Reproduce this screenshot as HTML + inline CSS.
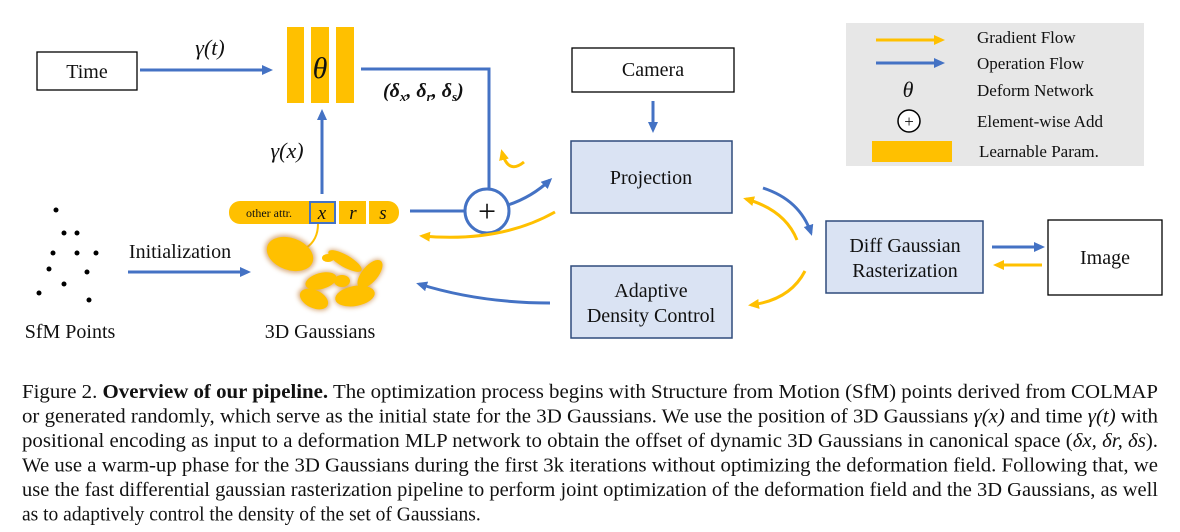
<!DOCTYPE html>
<html><head><meta charset="utf-8"><style>
html,body{margin:0;padding:0;background:#fff;}
svg{display:block;}
text{font-family:"Liberation Serif",serif;fill:#111;}
</style></head><body>
<svg width="1180" height="532" viewBox="0 0 1180 532" xmlns="http://www.w3.org/2000/svg">
<defs>
<marker id="ab" markerWidth="11" markerHeight="10" refX="8" refY="5" orient="auto" markerUnits="userSpaceOnUse"><path d="M0,0 L11,5 L0,10 Z" fill="#4472c4"/></marker>
<marker id="ay" markerWidth="11" markerHeight="10" refX="8" refY="5" orient="auto" markerUnits="userSpaceOnUse"><path d="M0,0 L11,5 L0,10 Z" fill="#ffc000"/></marker>
<filter id="gl" x="-30%" y="-30%" width="160%" height="160%"><feGaussianBlur stdDeviation="2.5"/></filter>
</defs>

<!-- legend -->
<rect x="846" y="23" width="298" height="143" fill="#e7e7e7"/>
<line x1="876" y1="40" x2="942" y2="40" stroke="#ffc000" stroke-width="3" marker-end="url(#ay)"/>
<line x1="876" y1="63" x2="942" y2="63" stroke="#4472c4" stroke-width="3" marker-end="url(#ab)"/>
<text x="908" y="97" font-size="22" font-style="italic" text-anchor="middle">θ</text>
<circle cx="909" cy="121" r="11" fill="#fff" stroke="#000" stroke-width="1.5"/>
<text x="909" y="127" font-size="17" text-anchor="middle">+</text>
<rect x="872" y="141" width="80" height="21" fill="#ffc000"/>
<text x="977" y="43" font-size="17">Gradient Flow</text>
<text x="977" y="69" font-size="17">Operation Flow</text>
<text x="977" y="96" font-size="17">Deform Network</text>
<text x="977" y="127" font-size="17">Element-wise Add</text>
<text x="979" y="157" font-size="17">Learnable Param.</text>

<!-- Time -->
<rect x="37" y="52" width="100" height="38" fill="#fff" stroke="#000" stroke-width="1.3"/>
<text x="87" y="78" font-size="20" text-anchor="middle">Time</text>
<text x="210" y="55" font-size="22" text-anchor="middle" font-style="italic">γ(t)</text>
<line x1="140" y1="70" x2="270" y2="70" stroke="#4472c4" stroke-width="3" marker-end="url(#ab)"/>

<!-- theta -->
<rect x="287" y="27" width="17" height="76" fill="#ffc000"/>
<rect x="311" y="27" width="18" height="76" fill="#ffc000"/>
<rect x="336" y="27" width="18" height="76" fill="#ffc000"/>
<text x="320" y="78" font-size="30" font-style="italic" text-anchor="middle">θ</text>
<polyline points="361,69 489,69 489,190" fill="none" stroke="#4472c4" stroke-width="3"/>
<text x="383" y="97" font-size="20" font-weight="bold" font-style="italic">(δ<tspan font-size="13" dy="4">x</tspan><tspan dy="-4">, δ</tspan><tspan font-size="13" dy="4">r</tspan><tspan dy="-4">, δ</tspan><tspan font-size="13" dy="4">s</tspan><tspan dy="-4">)</tspan></text>

<!-- gamma x -->
<text x="287" y="158" font-size="22" text-anchor="middle" font-style="italic">γ(x)</text>
<line x1="322" y1="194" x2="322" y2="112" stroke="#4472c4" stroke-width="3" marker-end="url(#ab)"/>

<!-- attr pill -->
<rect x="229" y="201" width="170" height="23" rx="11" fill="#ffc000"/>
<rect x="309" y="201" width="2" height="23" fill="#fff"/>
<rect x="336" y="201" width="3" height="23" fill="#fff"/>
<rect x="366" y="201" width="3" height="23" fill="#fff"/>
<rect x="310" y="202" width="25" height="21" fill="none" stroke="#4472c4" stroke-width="2"/>
<text x="269" y="217" font-size="12" text-anchor="middle">other attr.</text>
<text x="322" y="219" font-size="19" font-style="italic" text-anchor="middle">x</text>
<text x="353" y="219" font-size="19" font-style="italic" text-anchor="middle">r</text>
<text x="383" y="219" font-size="19" font-style="italic" text-anchor="middle">s</text>
<path d="M318,224 Q318,240 306,248" fill="none" stroke="#ffc000" stroke-width="2"/>

<!-- gaussians -->
<g filter="url(#gl)" fill="#c98a4a" opacity="0.7">
<ellipse cx="290" cy="254" rx="26" ry="18" transform="rotate(20 290 254)"/>
<ellipse cx="345" cy="261" rx="20" ry="7" transform="rotate(30 345 261)"/>
<ellipse cx="370" cy="274" rx="18" ry="9" transform="rotate(-50 370 274)"/>
<ellipse cx="321" cy="281" rx="18" ry="9" transform="rotate(-15 321 281)"/>
<ellipse cx="342" cy="281" rx="9" ry="7"/>
<ellipse cx="314" cy="299" rx="17" ry="10" transform="rotate(25 314 299)"/>
<ellipse cx="355" cy="296" rx="21" ry="11" transform="rotate(-10 355 296)"/>
</g>
<g fill="#ffc000">
<ellipse cx="290" cy="254" rx="24" ry="16" transform="rotate(20 290 254)"/>
<ellipse cx="345" cy="261" rx="19" ry="6" transform="rotate(30 345 261)"/>
<ellipse cx="328" cy="258" rx="6" ry="4"/>
<ellipse cx="370" cy="274" rx="17" ry="8" transform="rotate(-50 370 274)"/>
<ellipse cx="321" cy="281" rx="16" ry="8" transform="rotate(-15 321 281)"/>
<ellipse cx="342" cy="281" rx="8" ry="6"/>
<ellipse cx="314" cy="299" rx="15" ry="9" transform="rotate(25 314 299)"/>
<ellipse cx="355" cy="296" rx="20" ry="10" transform="rotate(-10 355 296)"/>
</g>
<text x="320" y="338" font-size="20" text-anchor="middle">3D Gaussians</text>

<!-- SfM -->
<g fill="#000">
<circle cx="56" cy="210" r="2.5"/><circle cx="64" cy="233" r="2.5"/><circle cx="77" cy="233" r="2.5"/>
<circle cx="53" cy="253" r="2.5"/><circle cx="77" cy="253" r="2.5"/><circle cx="96" cy="253" r="2.5"/>
<circle cx="49" cy="269" r="2.5"/><circle cx="87" cy="272" r="2.5"/><circle cx="64" cy="284" r="2.5"/>
<circle cx="39" cy="293" r="2.5"/><circle cx="89" cy="300" r="2.5"/>
</g>
<text x="70" y="338" font-size="20" text-anchor="middle">SfM Points</text>
<text x="180" y="258" font-size="20" text-anchor="middle">Initialization</text>
<line x1="128" y1="272" x2="248" y2="272" stroke="#4472c4" stroke-width="3" marker-end="url(#ab)"/>

<!-- plus -->
<line x1="410" y1="211" x2="465" y2="211" stroke="#4472c4" stroke-width="3"/>
<circle cx="487" cy="211" r="22" fill="#fff" stroke="#4472c4" stroke-width="3"/>
<text x="487" y="222" font-size="32" text-anchor="middle">+</text>
<path d="M508,205 Q532,197 550,180" fill="none" stroke="#4472c4" stroke-width="3" marker-end="url(#ab)"/>
<path d="M524,162 Q508,175 502,152" fill="none" stroke="#ffc000" stroke-width="3" marker-end="url(#ay)"/>
<path d="M555,212 Q500,243 422,236" fill="none" stroke="#ffc000" stroke-width="3" marker-end="url(#ay)"/>
<path d="M550,303 Q480,303 419,284" fill="none" stroke="#4472c4" stroke-width="3" marker-end="url(#ab)"/>

<!-- camera -->
<rect x="572" y="48" width="162" height="44" fill="#fff" stroke="#000" stroke-width="1.3"/>
<text x="653" y="76" font-size="20" text-anchor="middle">Camera</text>
<line x1="653" y1="101" x2="653" y2="130" stroke="#4472c4" stroke-width="3" marker-end="url(#ab)"/>

<!-- projection -->
<rect x="571" y="141" width="161" height="72" fill="#dae3f3" stroke="#2f4b7c" stroke-width="1.5"/>
<text x="651" y="184" font-size="20" text-anchor="middle">Projection</text>
<rect x="571" y="266" width="161" height="72" fill="#dae3f3" stroke="#2f4b7c" stroke-width="1.5"/>
<text x="651" y="297" font-size="20" text-anchor="middle">Adaptive</text>
<text x="651" y="322" font-size="20" text-anchor="middle">Density Control</text>

<path d="M763,188 Q800,200 811,233" fill="none" stroke="#4472c4" stroke-width="3" marker-end="url(#ab)"/>
<path d="M797,240 Q785,210 746,199" fill="none" stroke="#ffc000" stroke-width="3" marker-end="url(#ay)"/>
<path d="M805,271 Q790,300 751,305" fill="none" stroke="#ffc000" stroke-width="3" marker-end="url(#ay)"/>

<!-- diff -->
<rect x="826" y="221" width="157" height="72" fill="#dae3f3" stroke="#2f4b7c" stroke-width="1.5"/>
<text x="905" y="252" font-size="20" text-anchor="middle">Diff Gaussian</text>
<text x="905" y="277" font-size="20" text-anchor="middle">Rasterization</text>
<line x1="992" y1="247" x2="1042" y2="247" stroke="#4472c4" stroke-width="3" marker-end="url(#ab)"/>
<line x1="1042" y1="265" x2="996" y2="265" stroke="#ffc000" stroke-width="3" marker-end="url(#ay)"/>
<rect x="1048" y="220" width="114" height="75" fill="#fff" stroke="#000" stroke-width="1.3"/>
<text x="1105" y="264" font-size="20" text-anchor="middle">Image</text>

<!-- caption -->
<g font-size="19.5">
<text x="22" y="398" textLength="1136" lengthAdjust="spacingAndGlyphs">Figure 2. <tspan font-weight="bold">Overview of our pipeline.</tspan> The optimization process begins with Structure from Motion (SfM) points derived from COLMAP</text>
<text x="22" y="422.5" textLength="1136" lengthAdjust="spacingAndGlyphs">or generated randomly, which serve as the initial state for the 3D Gaussians. We use the position of 3D Gaussians <tspan font-style="italic">γ(x)</tspan> and time <tspan font-style="italic">γ(t)</tspan> with</text>
<text x="22" y="447" textLength="1136" lengthAdjust="spacingAndGlyphs">positional encoding as input to a deformation MLP network to obtain the offset of dynamic 3D Gaussians in canonical space (<tspan font-style="italic">δx, δr, δs</tspan>).</text>
<text x="22" y="471.5" textLength="1136" lengthAdjust="spacingAndGlyphs">We use a warm-up phase for the 3D Gaussians during the first 3k iterations without optimizing the deformation field. Following that, we</text>
<text x="22" y="496" textLength="1136" lengthAdjust="spacingAndGlyphs">use the fast differential gaussian rasterization pipeline to perform joint optimization of the deformation field and the 3D Gaussians, as well</text>
<text x="22" y="520.5">as to adaptively control the density of the set of Gaussians.</text>
</g>
</svg>
</body></html>
